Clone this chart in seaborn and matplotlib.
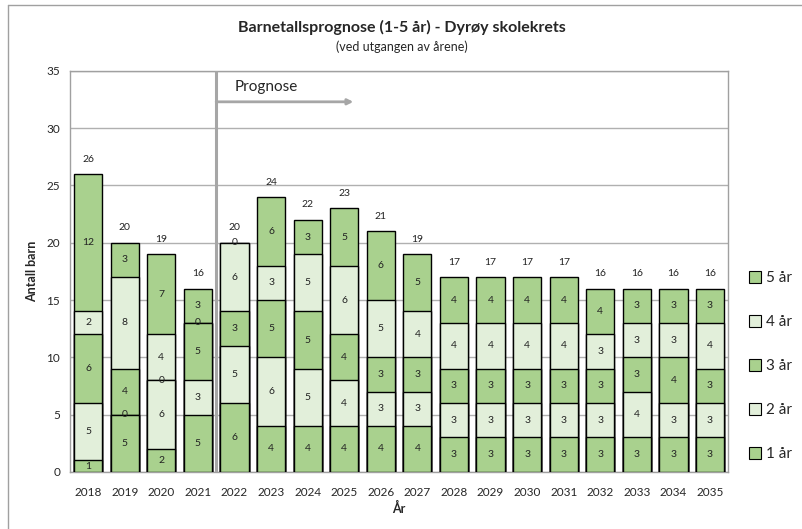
import matplotlib
matplotlib.use("Agg")
import matplotlib.pyplot as plt
from matplotlib.patches import Patch
from matplotlib.lines import Line2D
import numpy as np
import pandas as pd
import seaborn as sns

# data
years = ['2018', '2019', '2020', '2021', '2022', '2023', '2024', '2025', '2026',
         '2027', '2028', '2029', '2030', '2031', '2032', '2033', '2034', '2035']
age1 = [1, 5, 2, 5, 6, 4, 4, 4, 4, 4, 3, 3, 3, 3, 3, 3, 3, 3]
age2 = [5, 0, 6, 3, 5, 6, 5, 4, 3, 3, 3, 3, 3, 3, 3, 4, 3, 3]
age3 = [6, 4, 0, 5, 3, 5, 5, 4, 3, 3, 3, 3, 3, 3, 3, 3, 4, 3]
age4 = [2, 8, 4, 0, 6, 3, 5, 6, 5, 4, 4, 4, 4, 4, 3, 3, 3, 4]
age5 = [12, 3, 7, 3, 0, 6, 3, 5, 6, 5, 4, 4, 4, 4, 4, 3, 3, 3]
series_names = ['1 år', '2 år', '3 år', '4 år', '5 år']

dark = '#a9d18e'
light = '#e2efda'
colors = [dark, light, dark, light, dark]

sns.set_style('white')
plt.rcParams['font.family'] = ['Lato', 'DejaVu Sans']

df = pd.DataFrame({'År': years, '1 år': age1, '2 år': age2, '3 år': age3,
                   '4 år': age4, '5 år': age5})
cum = df[series_names].cumsum(axis=1)
df_cum = pd.concat([df[['År']], cum], axis=1)

fig = plt.figure(figsize=(8.03, 5.29), dpi=100)
ax = fig.add_axes([0.087, 0.108, 0.82, 0.758])

# draw cumulative bars top series first so lower ones overlay them
for name, col in reversed(list(zip(series_names, colors))):
    sns.barplot(data=df_cum, x='År', y=name, color=col, width=0.77,
                edgecolor='black', linewidth=1.0, saturation=1, ax=ax, zorder=3)

# segment labels
for i in range(len(years)):
    bottom = 0
    for name in series_names:
        v = df.loc[i, name]
        ax.text(i, bottom + v / 2, str(v), ha='center', va='center',
                fontsize=7.5, color='#222222', zorder=5)
        bottom += v
    ax.text(i, bottom + 1.3, str(bottom), ha='center', va='center',
            fontsize=7.5, color='#222222', zorder=5)

ax.set_ylim(0, 35)
ax.set_xlim(-0.5, len(years) - 0.5)
ax.set_yticks(range(0, 36, 5))
ax.yaxis.grid(True, color='#b0b0b0', linewidth=1)
ax.set_axisbelow(True)
for s in ax.spines.values():
    s.set_color('#a0a0a0')
    s.set_linewidth(1)
ax.tick_params(axis='y', length=4, color='#a0a0a0', labelsize=8.5, pad=3)
ax.tick_params(axis='x', which='major', length=0, labelsize=8.5, pad=11)
ax.set_xticks(np.arange(-0.5, len(years), 1), minor=True)
ax.tick_params(axis='x', which='minor', length=4, color='#a0a0a0')

ax.set_xlabel('År', fontsize=9, fontweight='bold', labelpad=3)
ax.set_ylabel('Antall barn', fontsize=9, fontweight='bold', labelpad=6)

# prognosis marker
ax.axvline(3.5, color='#a6a6a6', linewidth=2.2, zorder=4)
ax.annotate('', xy=(7.25, 32.3), xytext=(3.5, 32.3),
            arrowprops=dict(arrowstyle='-|>', color='#a6a6a6', lw=2,
                            mutation_scale=8, shrinkA=0, shrinkB=0), zorder=4)
ax.text(4.0, 33.6, 'Prognose', fontsize=11, ha='left', va='center')

fig.text(0.5, 0.948, 'Barnetallsprognose (1-5 år) - Dyrøy skolekrets',
         ha='center', va='center', fontsize=11.5, fontweight='bold')
fig.text(0.5, 0.912, '(ved utgangen av årene)', ha='center', va='center', fontsize=9)

handles = [Patch(facecolor=c, edgecolor='black', linewidth=0.8)
           for c in colors]
leg = fig.legend(handles[::-1], series_names[::-1], loc='center left',
                 bbox_to_anchor=(0.925, 0.308), frameon=False, fontsize=11,
                 handlelength=0.8, handleheight=0.8, handletextpad=0.3,
                 labelspacing=1.95, borderaxespad=0)

# thin outer chart border
fig.add_artist(Line2D([0.01, 0.01], [0, 0.99], transform=fig.transFigure,
                      color='#a0a0a0', linewidth=1))
fig.add_artist(Line2D([0.01, 1.0], [0.99, 0.99], transform=fig.transFigure,
                      color='#a0a0a0', linewidth=1))

fig.savefig('out.png', dpi=100)
